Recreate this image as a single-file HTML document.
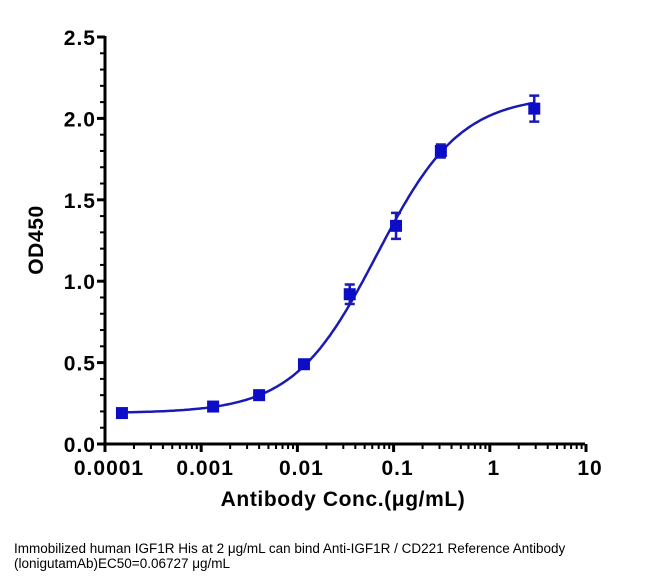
<!DOCTYPE html>
<html><head><meta charset="utf-8"><style>
body{margin:0;background:#fff;width:662px;height:581px;overflow:hidden}
svg{display:block}
.t{font-family:"Liberation Sans",Arial,sans-serif;font-weight:bold;font-size:21px;letter-spacing:1px;fill:#000}
.a{font-family:"Liberation Sans",Arial,sans-serif;font-weight:bold;font-size:21px;letter-spacing:0.6px;fill:#000}
.c{font-family:"Liberation Sans","Noto Sans CJK SC",sans-serif;font-size:13.5px;fill:#000}
</style></head><body>
<svg id="chart" width="662" height="581">
<g id="axes"></g><g id="series"></g>
<text class="a" x="0" y="0" text-anchor="middle" transform="translate(43,240) rotate(-90)">OD450</text>
<text class="a" x="343" y="506" text-anchor="middle">Antibody Conc.(μg/mL)</text>
<text class="c" x="14" y="553">Immobilized human IGF1R His at 2  μg/mL can bind  Anti-IGF1R / CD221 Reference Antibody</text>
<text class="c" x="14" y="568">(lonigutamAb)EC50=0.06727 μg/mL</text>
</svg>
<script>
const xVals=[0.00015,0.00133,0.004,0.0117,0.035,0.106,0.31,2.9];
const yVals=[0.19,0.23,0.30,0.49,0.92,1.34,1.80,2.06];
const yErr=[0.01,0.01,0.01,0.02,0.06,0.08,0.04,0.08];
const xTicks=[0.0001,0.001,0.01,0.1,1,10];
const xTickLabels=["0.0001","0.001","0.01","0.1","1","10"];
const yTicks=[0,0.5,1,1.5,2,2.5];
const yTickLabels=["0.0","0.5","1.0","1.5","2.0","2.5"];
const fitBottom=0.19,fitTop=2.14,fitEC50=0.06727,fitHill=1.0;
const X0=105,DEC=96.2,Y0=444,YS=(444-37)/2.5;
const xs=v=>X0+(Math.log10(v)+4)*DEC;
const ys=v=>Y0-v*YS;
const NS="http://www.w3.org/2000/svg";
function mk(p,tag,a){const e=document.createElementNS(NS,tag);for(const k in a)e.setAttribute(k,a[k]);p.appendChild(e);return e;}
const ax=document.getElementById('axes'),se=document.getElementById('series');
let e=mk(ax,'line',{x1:X0,y1:Y0,x2:585,y2:Y0,stroke:'#000','stroke-width':3});


e=mk(ax,'line',{x1:X0,y1:Y0+1.5,x2:X0,y2:36,stroke:'#000','stroke-width':3});


xTicks.forEach((v,i)=>{
 mk(ax,'line',{x1:xs(v),y1:Y0,x2:xs(v),y2:Y0+8,stroke:'#000','stroke-width':3});
 const t=mk(ax,'text',{x:xs(v)+4,y:Y0+31,'text-anchor':'middle',class:'t'});t.textContent=xTickLabels[i];
 
 
 if(i<xTicks.length-1)for(let k=2;k<10;k++)mk(ax,'line',{x1:xs(v*k),y1:Y0,x2:xs(v*k),y2:Y0+5,stroke:'#000','stroke-width':2});
});
yTicks.forEach((v,i)=>{
 mk(ax,'line',{x1:X0-8,y1:ys(v),x2:X0,y2:ys(v),stroke:'#000','stroke-width':3});
 const t=mk(ax,'text',{x:X0-9,y:ys(v)+8,'text-anchor':'end',class:'t'});t.textContent=yTickLabels[i];
 
 
});
for(let v=0.1;v<2.5;v+=0.1){mk(ax,'line',{x1:X0-5,y1:ys(v),x2:X0,y2:ys(v),stroke:'#000','stroke-width':2});}
let d='';
for(let i=0;i<=200;i++){const lx=Math.log10(xVals[0])+i*(Math.log10(xVals[xVals.length-1])-Math.log10(xVals[0]))/200;const x=Math.pow(10,lx);
 const y=fitBottom+(fitTop-fitBottom)/(1+Math.pow(fitEC50/x,fitHill));d+=(i?'L':'M')+xs(x).toFixed(1)+','+ys(y).toFixed(1);}
e=mk(se,'path',{d:d,fill:'none',stroke:'#1a1ab4','stroke-width':2.5});


xVals.forEach((x,i)=>{
 const cx=xs(x),cy=ys(yVals[i]),t=ys(yVals[i]+yErr[i]),b=ys(yVals[i]-yErr[i]);
 if(yErr[i]>0.02){mk(se,'path',{d:`M${cx},${t}V${b}M${cx-5},${t}H${cx+5}M${cx-5},${b}H${cx+5}`,stroke:'#1a1ab4','stroke-width':2.5,fill:'none'});}
 const r=mk(se,'rect',{x:cx-6,y:cy-6,width:12,height:12,fill:'#0d0dc8'});
 
 
});
</script>
</body></html>
